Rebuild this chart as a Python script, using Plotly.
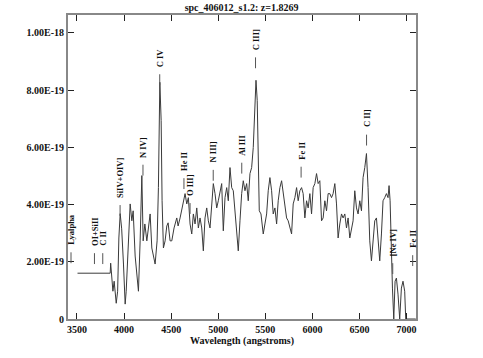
import plotly.graph_objects as go

# Spectrum: wavelength (angstroms) and flux (units of 1e-19)
wavelength = [3506, 3853, 3858, 3882, 3895, 3917, 3932, 3945, 3959, 3975, 3994, 4012, 4023, 4047, 4065,
              4083, 4097, 4118, 4136, 4153, 4171, 4189, 4203, 4221, 4242, 4259, 4277, 4295, 4312, 4330,
              4351, 4365, 4380, 4394, 4404, 4418, 4436, 4454, 4468, 4489, 4507, 4531, 4560, 4574, 4595,
              4630, 4648, 4666, 4683, 4701, 4719, 4736, 4754, 4772, 4789, 4807, 4825, 4842, 4860, 4878,
              4895, 4913, 4931, 4948, 4966, 4984, 5001, 5019, 5037, 5054, 5072, 5090, 5107, 5125, 5143,
              5160, 5178, 5196, 5213, 5231, 5249, 5266, 5284, 5302, 5319, 5337, 5355, 5372, 5390, 5401,
              5414, 5425, 5436, 5454, 5478, 5496, 5514, 5531, 5549, 5567, 5584, 5602, 5620, 5637, 5655,
              5673, 5690, 5708, 5726, 5743, 5761, 5779, 5796, 5814, 5832, 5849, 5867, 5885, 5902, 5920,
              5938, 5955, 5973, 5991, 6008, 6026, 6044, 6061, 6079, 6097, 6114, 6132, 6150, 6167, 6185,
              6203, 6220, 6238, 6256, 6273, 6291, 6309, 6326, 6344, 6362, 6379, 6397, 6415, 6432, 6450,
              6468, 6485, 6503, 6521, 6538, 6556, 6574, 6591, 6609, 6627, 6644, 6662, 6680, 6697, 6715,
              6733, 6750, 6768, 6786, 6803, 6814, 6825, 6840, 6850, 6864, 6878, 6892, 6909, 6927, 6945,
              6962, 6980, 6991, 7097]
flux_e19 = [1.60, 1.60, 1.95, 0.97, 1.32, 0.55, 0.97, 2.83, 3.68, 3.15, 1.92, 0.52, 0.97, 3.08, 4.02,
            3.43, 3.78, 2.20, 1.43, 0.97, 2.73, 5.01, 2.73, 3.32, 2.73, 3.18, 3.67, 2.48, 2.20, 1.92,
            2.73, 4.59, 8.27, 6.94, 4.13, 2.48, 2.73, 3.25, 3.36, 2.73, 2.73, 3.18, 3.53, 3.25, 3.53,
            4.02, 4.38, 4.02, 4.24, 3.32, 2.97, 3.67, 3.32, 3.88, 3.18, 3.53, 3.18, 2.38, 3.53, 3.88,
            3.43, 3.18, 4.13, 4.73, 4.38, 3.88, 4.13, 4.48, 4.73, 3.08, 4.24, 4.59, 4.13, 5.29, 4.59,
            4.48, 3.78, 3.08, 2.38, 3.43, 4.38, 4.83, 4.48, 4.73, 4.13, 5.08, 5.29, 5.99, 7.29, 8.34,
            7.64, 5.53, 3.78, 3.67, 2.97, 3.32, 3.67, 4.48, 4.94, 4.48, 3.67, 3.88, 3.32, 4.13, 4.59,
            4.83, 4.38, 3.88, 3.53, 3.43, 3.18, 2.97, 4.02, 4.24, 4.59, 4.13, 4.48, 4.59, 4.38, 3.53,
            4.13, 3.88, 4.38, 3.67, 4.59, 4.73, 5.08, 4.73, 4.83, 3.43, 3.53, 4.13, 3.78, 4.38, 4.38,
            4.24, 4.38, 4.73, 4.02, 2.83, 3.32, 3.67, 3.53, 3.67, 3.18, 3.53, 2.83, 3.18, 3.43, 4.48,
            3.88, 3.67, 4.13, 3.78, 4.94, 5.29, 5.78, 4.59, 2.73, 2.03, 2.73, 3.43, 3.53, 2.73, 2.03,
            2.97, 4.13, 4.24, 4.38, 4.24, 4.66, 4.13, 2.03, 1.08, 0.0, 1.32, 1.43, 0.87, 0.0, 1.08,
            1.32, 0.97, 0.0, 0.0]
flux = [v * 1e-19 for v in flux_e19]

# Emission-line identifications
line_names = ["Lyalpha", "OI+SiII", "C II", "SiIV+OIV]", "N IV]", "C IV", "He II", "O III]",
              "N III]", "Al III", "C III]", "Fe II", "C II]", "[Ne IV]", "Fe II"]
line_waves = [3437, 3686, 3774, 3958, 4201, 4379, 4636, 4701, 4947, 5250, 5396, 5880, 6575, 6853, 7065]
line_base_e19 = [1.95, 1.92, 1.92, 3.60, 5.01, 8.17, 4.54, 3.67, 4.83, 5.08, 8.76, 4.94, 6.06, 1.57, 1.85]

x_ticks = [3500, 4000, 4500, 5000, 5500, 6000, 6500, 7000]
y_tickvals = [0, 2e-19, 4e-19, 6e-19, 8e-19, 1e-18]
y_ticktext = ["0", "2.00E-19", "4.00E-19", "6.00E-19", "8.00E-19", "1.00E-18"]

FONT = "Liberation Serif"
TICK_LEN = 0.38e-19
GAP = 0.18e-19

fig = go.Figure()
fig.add_trace(go.Scatter(x=wavelength, y=flux, mode="lines",
                         line=dict(color="#3a3a3a", width=1), hoverinfo="skip"))

shapes = []
annotations = []
for name, w, b in zip(line_names, line_waves, line_base_e19):
    base = b * 1e-19
    shapes.append(dict(type="line", xref="x", yref="y", x0=w, x1=w, y0=base, y1=base + TICK_LEN,
                       line=dict(color="#555555", width=1)))
    annotations.append(dict(x=w, y=base + TICK_LEN + GAP, xref="x", yref="y", text=name,
                            textangle=-90, showarrow=False, xanchor="center", yanchor="bottom",
                            font=dict(family=FONT, size=8.5, color="#111111", weight="bold")))

annotations.append(dict(x=0.5, y=-0.073, xref="paper", yref="paper", text="Wavelength (angstroms)",
                        showarrow=False, xanchor="center", yanchor="middle",
                        font=dict(family=FONT, size=10, color="#111111", weight="bold")))

fig.update_layout(
    width=483, height=358,
    margin=dict(l=68, r=67, t=15, b=39),
    paper_bgcolor="white", plot_bgcolor="white",
    showlegend=False,
    title=dict(text="spc_406012_s1.2: z=1.8269", x=0.5, xanchor="center", y=0.978, yanchor="middle",
               font=dict(family=FONT, size=10, color="#111111", weight="bold")),
    shapes=shapes, annotations=annotations,
)
fig.update_xaxes(range=[3405, 7100], tickvals=x_ticks, ticks="inside", ticklen=6, tickcolor="#222222",
                 showline=True, linecolor="#888888", linewidth=2, mirror="ticks", showgrid=False,
                 zeroline=False, automargin=False,
                 tickfont=dict(family=FONT, size=10, color="#111111", weight="bold"))
fig.update_yaxes(range=[0, 1.062e-18], tickvals=y_tickvals, ticktext=y_ticktext, ticks="inside",
                 ticklen=6, tickcolor="#222222", showline=True, linecolor="#888888", linewidth=2,
                 mirror="ticks", showgrid=False, zeroline=False, automargin=False,
                 tickfont=dict(family=FONT, size=10, color="#111111", weight="bold"))

fig.write_html("out.html", config={"displayModeBar": False},
               post_script="document.body.style.margin='0';")
